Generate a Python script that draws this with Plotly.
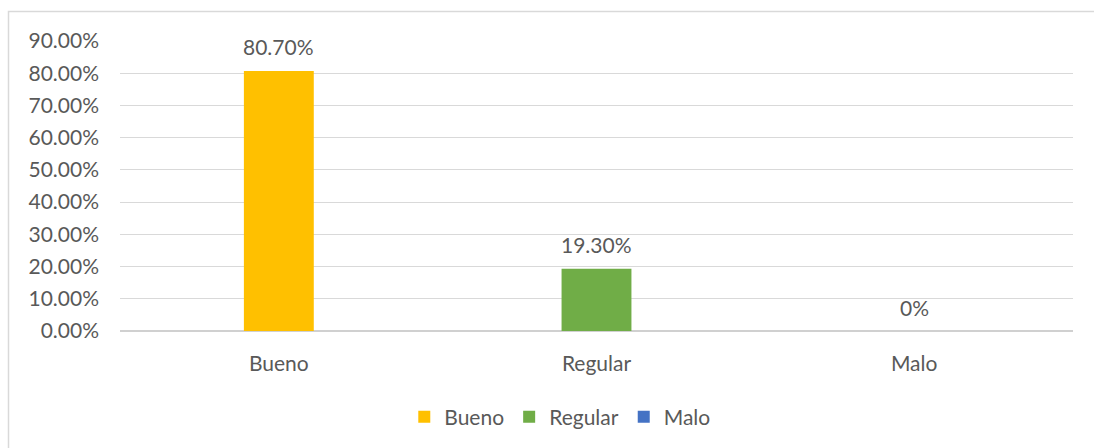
import plotly.graph_objects as go

categories = ["Bueno", "Regular", "Malo"]
values = [0.807, 0.193, 0.0]
labels = ["80.70%", "19.30%", "0%"]
colors = ["#FFC000", "#70AD47", "#4472C4"]
y_ticks = [0, 0.1, 0.2, 0.3, 0.4, 0.5, 0.6, 0.7, 0.8, 0.9]

FONT = "Lato"
TXT = "#595959"
FS = 21

fig = go.Figure()
for c, v, col in zip(categories, values, colors):
    fig.add_trace(go.Bar(x=[c], y=[v], name=c, marker=dict(color=col, line=dict(width=0)),
                         width=0.22, hoverinfo="x+y"))

for c, v, t in zip(categories, values, labels):
    fig.add_annotation(x=c, y=v, text=t, showarrow=False, yanchor="middle", yshift=24,
                       font=dict(family=FONT, size=FS, color=TXT))

# chart area border
fig.add_shape(type="rect", xref="paper", yref="paper",
              x0=(8.5 - 120) / 953, x1=1.03, y0=-0.5, y1=(332 - 11.5) / 291,
              line=dict(color="#D9D9D9", width=1.5), fillcolor="rgba(0,0,0,0)", layer="below")

fig.update_layout(
    width=1094, height=448,
    margin=dict(l=120, r=21, t=41, b=116),
    paper_bgcolor="white", plot_bgcolor="white",
    barmode="overlay",
    font=dict(family=FONT, size=FS, color=TXT),
    showlegend=True,
    legend=dict(orientation="h", xref="paper", x=0.462, xanchor="center",
                y=(332 - 417) / 291, yanchor="middle",
                font=dict(family=FONT, size=FS, color=TXT), itemclick=False),
    xaxis=dict(categoryorder="array", categoryarray=categories, showgrid=False,
               showline=False, zeroline=False, ticks="", ticklabelstandoff=18,
               tickfont=dict(family=FONT, size=FS, color=TXT)),
    yaxis=dict(range=[0, 0.9], tickvals=y_ticks, tickformat=".2%", showgrid=True,
               gridcolor="#D9D9D9", gridwidth=1.3, zeroline=True, zerolinecolor="#D0D0D0",
               zerolinewidth=1.5, showline=False, ticks="", ticklabelstandoff=20,
               tickfont=dict(family=FONT, size=FS, color=TXT)),
)

fig.write_html("out.html", config={"displayModeBar": False},
               post_script="document.body.style.margin='0';")
